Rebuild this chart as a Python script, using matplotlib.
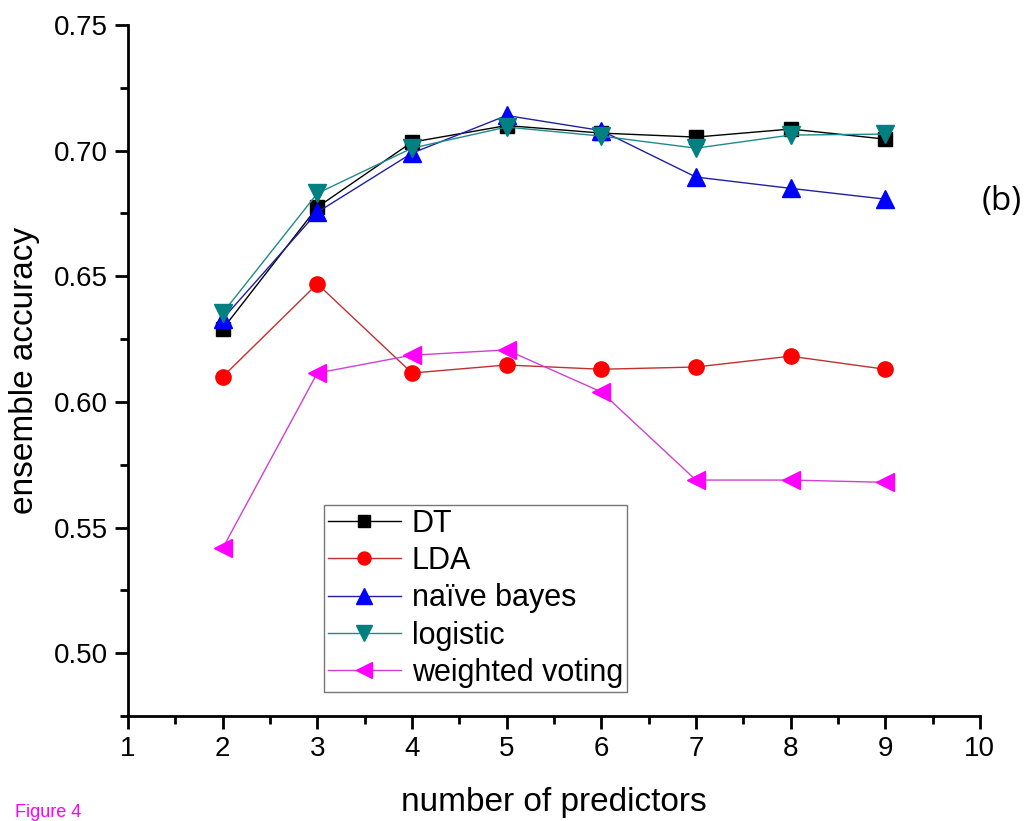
import matplotlib
matplotlib.use("Agg")
import matplotlib.pyplot as plt
from matplotlib.ticker import MultipleLocator

plt.rcParams['font.family'] = ['Liberation Sans', 'DejaVu Sans']

n_predictors = [2, 3, 4, 5, 6, 7, 8, 9]
dt = [0.629, 0.6775, 0.7034, 0.710, 0.707, 0.7054, 0.7086, 0.7046]
lda = [0.610, 0.647, 0.6115, 0.6147, 0.613, 0.6139, 0.6182, 0.613]
naive_bayes = [0.633, 0.6755, 0.699, 0.714, 0.708, 0.6895, 0.685, 0.6807]
logistic = [0.6354, 0.683, 0.701, 0.7094, 0.7058, 0.701, 0.7062, 0.7066]
weighted_voting = [0.5418, 0.6115, 0.6186, 0.6207, 0.604, 0.5689, 0.5689, 0.568]

fig = plt.figure(figsize=(10.26, 8.21), dpi=100)
ax = fig.add_axes([0.1248, 0.1279, 0.8302, 0.8416])

ax.plot(n_predictors, dt, color='black', lw=1, marker='s', ms=10.5,
        mfc='black', mec='black', label='DT')
ax.plot(n_predictors, lda, color='#c03030', lw=1, marker='o', ms=11,
        mfc='red', mec='red', label='LDA')
ax.plot(n_predictors, naive_bayes, color='#2020a0', lw=1, marker='^', ms=13,
        mfc='blue', mec='blue', label='naïve bayes')
ax.plot(n_predictors, logistic, color='#208a8a', lw=1, marker='v', ms=13,
        mfc='#008080', mec='#008080', label='logistic')
ax.plot(n_predictors, weighted_voting, color='#d040d0', lw=1, marker='<', ms=13,
        mfc='magenta', mec='magenta', label='weighted voting')

ax.set_xlim(1, 10)
ax.set_ylim(0.475, 0.75)
ax.xaxis.set_major_locator(MultipleLocator(1))
ax.xaxis.set_minor_locator(MultipleLocator(0.5))
ax.yaxis.set_major_locator(MultipleLocator(0.05))
ax.yaxis.set_minor_locator(MultipleLocator(0.025))
ax.yaxis.set_major_formatter(plt.FormatStrFormatter('%.2f'))

for side in ['top', 'right']:
    ax.spines[side].set_visible(False)
for side in ['left', 'bottom']:
    ax.spines[side].set_linewidth(2)
ax.tick_params(which='major', direction='out', length=9.5, width=2, labelsize=20, pad=5)
ax.tick_params(which='minor', direction='out', length=6, width=2)

ax.set_xlabel('number of predictors', fontsize=24, labelpad=18)
ax.set_ylabel('ensemble accuracy', fontsize=24, labelpad=10)

leg = ax.legend(loc='lower left', bbox_to_anchor=(0.2302, 0.035), fontsize=22,
                frameon=True, fancybox=False, handlelength=2.4,
                borderpad=0.12, labelspacing=0.24, handletextpad=0.35,
                borderaxespad=0, markerscale=0.85)
leg.get_frame().set_edgecolor('#555555')
leg.get_frame().set_linewidth(1)

fig.text(0.957, 0.755, '(b)', fontsize=24, family=['Open Sans', 'DejaVu Sans'],
         ha='left', va='center')
fig.text(0.015, 0.0, 'Figure 4', fontsize=13, color='magenta', ha='left', va='bottom')

fig.savefig('out.png', dpi=100)
